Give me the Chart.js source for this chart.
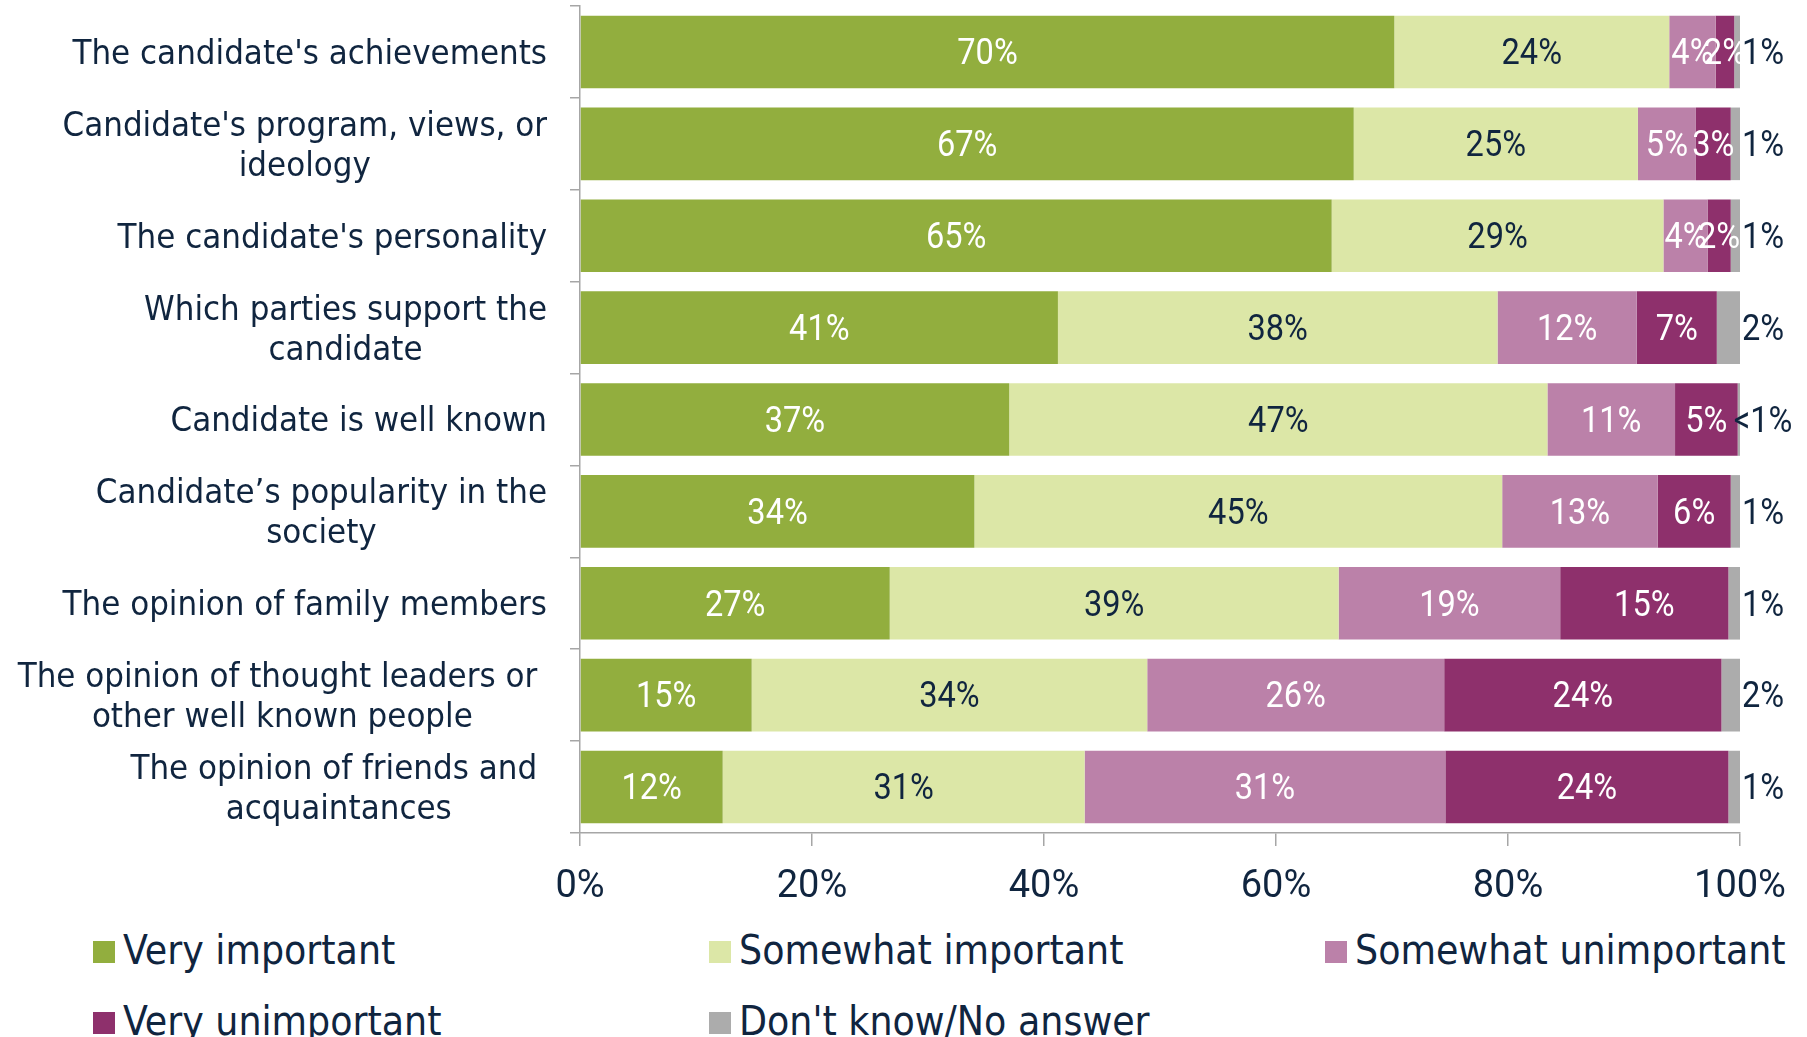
<!DOCTYPE html>
<html>
<head>
<meta charset="utf-8">
<title>What matters when choosing a candidate</title>
<script src="https://cdn.jsdelivr.net/npm/chart.js@4.4.1/dist/chart.umd.min.js"></script>
<style>
  html, body { margin:0; padding:0; background:#fff; }
  #wrap { position:relative; width:1807px; height:1037px; overflow:hidden; }
  #chart { position:absolute; left:0; top:0; }
  .legend-item { position:absolute; height:41px; font-size:40.5px; font-family:"DejaVu Sans Condensed", Lato, sans-serif; line-height:41px; color:#10253F; white-space:nowrap; }
  .legend-item .box { position:absolute; left:0; top:11px; width:22px; height:22px; }
  .legend-item .txt { position:absolute; left:30px; top:0; }
</style>
</head>
<body>
<div id="wrap">
  <canvas id="chart" width="1807" height="920"></canvas>
  <div id="legend"></div>
</div>
<script>
// categories, top to bottom (multi-line labels as Excel wrapped them)
const categories = [
  ["The candidate's achievements"],
  ["Candidate's program, views, or", "ideology"],
  ["The candidate's personality"],
  ["Which parties support the", "candidate"],
  ["Candidate is well known"],
  ["Candidate\u2019s popularity in the", "society"],
  ["The opinion of family members"],
  ["The opinion of thought leaders or ", "other well known people"],
  ["The opinion of friends and ", "acquaintances"]
];
const seriesNames = ['Very important', 'Somewhat important', 'Somewhat unimportant', 'Very unimportant', "Don't know/No answer"];

// bar lengths (%)
const veryImportant       = [70.2, 66.7, 64.8, 41.2, 37.0, 34.0, 26.7, 14.8, 12.3];
const somewhatImportant   = [23.7, 24.5, 28.6, 37.9, 46.4, 45.5, 38.7, 34.1, 31.2];
const somewhatUnimportant = [ 4.0,  5.0,  3.8, 12.0, 11.0, 13.4, 19.1, 25.6, 31.1];
const veryUnimportant     = [ 1.6,  3.0,  2.0,  6.9,  5.4,  6.3, 14.5, 23.9, 24.4];
const dontKnow            = [ 0.5,  0.8,  0.8,  2.0,  0.2,  0.8,  1.0,  1.6,  1.0];

// printed labels
const lblVeryImportant       = ['70%','67%','65%','41%','37%','34%','27%','15%','12%'];
const lblSomewhatImportant   = ['24%','25%','29%','38%','47%','45%','39%','34%','31%'];
const lblSomewhatUnimportant = ['4%','5%','4%','12%','11%','13%','19%','26%','31%'];
const lblVeryUnimportant     = ['2%','3%','2%','7%','5%','6%','15%','24%','24%'];
const lblDontKnow            = ['1%','1%','1%','2%','<1%','1%','1%','2%','1%'];

const xTickStep = 20;

const values = [veryImportant, somewhatImportant, somewhatUnimportant, veryUnimportant, dontKnow];
const valueLabels = [lblVeryImportant, lblSomewhatImportant, lblSomewhatUnimportant, lblVeryUnimportant, lblDontKnow];

const colors = ['#92AE3E', '#DCE7A7', '#BB81A9', '#8E306C', '#ACACAC'];
const labelColors = ['#fff', '#10253F', '#fff', '#fff', '#10253F'];
const NAVY = '#10253F', AXIS = '#A6A6A6';
const CAT_FONT = '34.5px "DejaVu Sans Condensed", Lato, sans-serif';
const NUM_FAMILY = '"Liberation Sans Narrow", Roboto, sans-serif';

// category labels: block right-aligned to the axis, lines centred inside the block
const catLabelPlugin = {
  id: 'catLabels',
  afterDraw(chart){
    const ctx = chart.ctx, y = chart.scales.y;
    const right = y.right - 33;
    ctx.save();
    ctx.font = CAT_FONT; ctx.fillStyle = NAVY;
    ctx.textAlign = 'center'; ctx.textBaseline = 'middle';
    categories.forEach((lines, i) => {
      const w = Math.max(...lines.map(l => ctx.measureText(l).width));
      const cx = right - w / 2, cy = y.getPixelForValue(i) + 3;
      lines.forEach((l, k) => ctx.fillText(l, cx, cy + (k - (lines.length - 1) / 2) * 40));
    });
    ctx.restore();
  }
};

// value labels in the middle of each segment, the last series outside the bar end
const valueLabelPlugin = {
  id: 'valueLabels',
  afterDatasetsDraw(chart){
    const ctx = chart.ctx, xs = chart.scales.x;
    chart.data.datasets.forEach((ds, d) => {
      chart.getDatasetMeta(d).data.forEach((bar, i) => {
        const x = d === 4 ? xs.getPixelForValue(100) + 23 : (bar.x + bar.base) / 2;
        ctx.save();
        ctx.font = '37px ' + NUM_FAMILY;
        ctx.textAlign = 'center'; ctx.textBaseline = 'middle';
        ctx.fillStyle = labelColors[d];
        ctx.translate(x, bar.y + 3);
        ctx.scale(0.88, 1); // the original figures are set narrow
        ctx.fillText(valueLabels[d][i], 0, 0);
        ctx.restore();
      });
    });
  }
};

new Chart(document.getElementById('chart'), {
  type: 'bar',
  data: {
    labels: categories,
    datasets: seriesNames.map((name, d) => ({
      label: name, data: values[d], backgroundColor: colors[d], borderWidth: 0,
      barPercentage: 0.79, categoryPercentage: 1
    }))
  },
  options: {
    indexAxis: 'y', responsive: false, animation: false,
    layout: { padding: { top: 6, right: 67, left: 0, bottom: 0 } },
    plugins: { legend: { display: false }, tooltip: { enabled: false } },
    scales: {
      x: {
        stacked: true, min: 0, max: 100,
        ticks: { stepSize: xTickStep, callback: v => v + '%', color: NAVY, font: { family: NUM_FAMILY, size: 38 }, padding: 19 },
        grid: { drawOnChartArea: false, tickLength: 13, color: AXIS, lineWidth: 1.5 },
        border: { color: AXIS, width: 1.5 },
        afterFit(s){ s.height = 87; }
      },
      y: {
        stacked: true,
        ticks: { display: false },
        grid: { drawOnChartArea: false, tickLength: 10, color: AXIS, lineWidth: 1.5, offset: true },
        border: { color: AXIS, width: 1.5 },
        afterFit(s){ s.width = 580; }
      }
    }
  },
  plugins: [catLabelPlugin, valueLabelPlugin]
});

// legend laid out in a fixed grid like the original
const legendCols = [93, 709, 1325], legendRows = [930, 1001];
const legend = document.getElementById('legend');
seriesNames.forEach((name, d) => {
  const item = document.createElement('div');
  item.className = 'legend-item';
  item.style.left = legendCols[d % 3] + 'px';
  item.style.top = legendRows[Math.floor(d / 3)] + 'px';
  item.innerHTML = '<span class="box" style="background:' + colors[d] + '"></span><span class="txt"></span>';
  item.querySelector('.txt').textContent = name;
  legend.appendChild(item);
});
</script>
</body>
</html>
